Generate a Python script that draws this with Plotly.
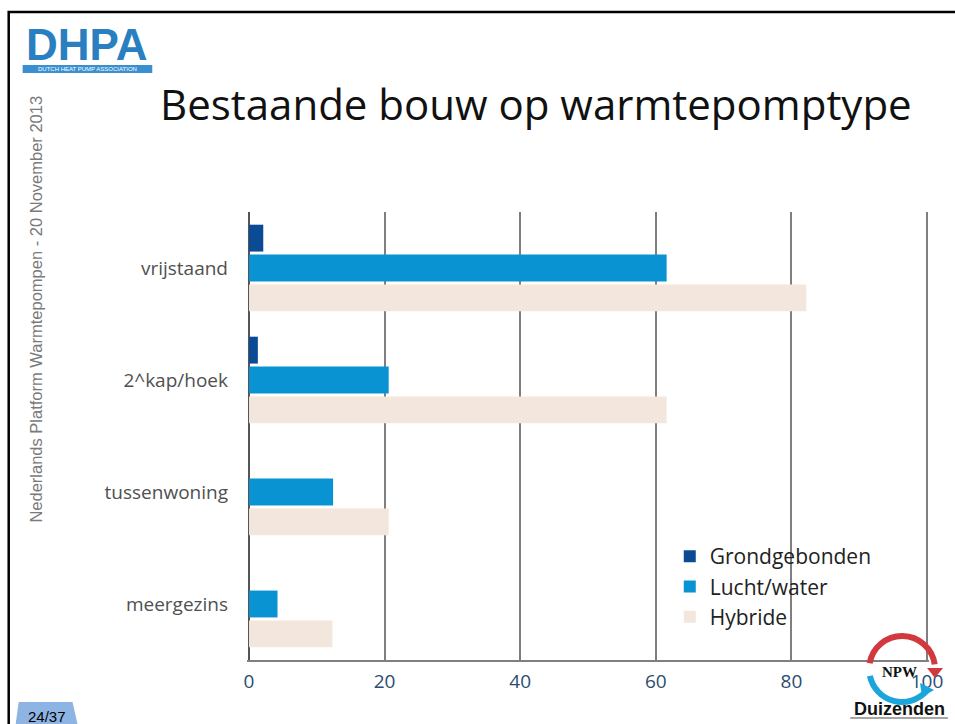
import math
import plotly.graph_objects as go

# data
categories = ["vrijstaand", "2^kap/hoek", "tussenwoning", "meergezins"]
grondgebonden = [2.1, 1.3, 0, 0]
lucht_water = [61.6, 20.6, 12.4, 4.2]
hybride = [82.2, 61.6, 20.6, 12.3]
x_ticks = [0, 20, 40, 60, 80, 100]

W, H = 955, 724
L, R, T, B = 247, 24, 212, 64
PW, PH = W - L - R, H - T - B


def px(x):
    return (x - L) / PW


def py(y):
    return (H - B - y) / PH


def arc_path(cx, cy, r, a0, a1, steps=4):
    # cubic bezier approximation of a circle arc, pixel coords -> paper coords
    d = (a1 - a0) / steps
    k = 4 / 3 * math.tan(math.radians(d) / 4)
    pts = []
    for i in range(steps):
        t0 = math.radians(a0 + i * d)
        t1 = math.radians(a0 + (i + 1) * d)
        p0 = (cx + r * math.cos(t0), cy - r * math.sin(t0))
        p3 = (cx + r * math.cos(t1), cy - r * math.sin(t1))
        p1 = (p0[0] - k * r * math.sin(t0), p0[1] - k * r * math.cos(t0))
        p2 = (p3[0] + k * r * math.sin(t1), p3[1] + k * r * math.cos(t1))
        if i == 0:
            pts.append(f"M {px(p0[0])},{py(p0[1])}")
        pts.append(f"C {px(p1[0])},{py(p1[1])} {px(p2[0])},{py(p2[1])} {px(p3[0])},{py(p3[1])}")
    return " ".join(pts)


def poly(points):
    s = " L ".join(f"{px(a)},{py(b)}" for a, b in points)
    return "M " + s + " Z"


fig = go.Figure()
fig.add_trace(go.Bar(y=categories, x=grondgebonden, name="Grondgebonden",
                     orientation="h", marker=dict(color="#0b4b95", line=dict(width=0))))
fig.add_trace(go.Bar(y=categories, x=lucht_water, name="Lucht/water",
                     orientation="h", marker=dict(color="#0a93d2", line=dict(width=0))))
fig.add_trace(go.Bar(y=categories, x=hybride, name="Hybride",
                     orientation="h", marker=dict(color="#f3e6dc", line=dict(width=0))))

shapes = [
    # slide frame
    dict(type="path", xref="paper", yref="paper",
         path=f"M {px(8)},{py(760)} L {px(8)},{py(12)} L {px(990)},{py(12)}",
         line=dict(color="black", width=2.5)),
    # page number tab
    dict(type="path", xref="paper", yref="paper",
         path=poly([(15, 724), (18, 702), (72, 702), (77, 724)]),
         fillcolor="#8eb4e3", line=dict(width=0)),
    # DHPA strip
    dict(type="rect", xref="paper", yref="paper",
         x0=px(22), x1=px(152), y0=py(73), y1=py(65),
         fillcolor="#3a8fd0", line=dict(width=0)),
    # NPW logo arcs
    dict(type="path", xref="paper", yref="paper", layer="above",
         path=arc_path(904, 669, 33, 170, 8), line=dict(color="#d2393f", width=6)),
    dict(type="path", xref="paper", yref="paper", layer="above",
         path=arc_path(904, 669, 33, 192, 318), line=dict(color="#1aa6dc", width=6)),
    dict(type="path", xref="paper", yref="paper", layer="above",
         path=poly([(929, 668), (945, 668), (937, 678)]),
         fillcolor="#d2393f", line=dict(width=0)),
    dict(type="path", xref="paper", yref="paper", layer="above",
         path=poly([(922, 683), (936, 690), (924, 697)]),
         fillcolor="#1aa6dc", line=dict(width=0)),
    dict(type="line", xref="paper", yref="paper", layer="above",
         x0=px(852), x1=px(950), y0=py(718), y1=py(718),
         line=dict(color="#888888", width=1.5)),
]

annotations = [
    dict(text="Bestaande bouw op warmtepomptype", x=px(537), y=py(103),
         font=dict(family="Open Sans", size=42, color="#111111")),
    dict(text="Nederlands Platform Warmtepompen - 20 November 2013", x=px(35), y=py(309),
         textangle=-90, font=dict(family="Liberation Sans", size=16.5, color="#7a7a7a")),
    dict(text="<b>DHPA</b>", x=px(86), y=py(44),
         font=dict(family="Liberation Sans", size=44, color="#2a7fc0")),
    dict(text="DUTCH HEAT PUMP ASSOCIATION", x=px(87), y=py(69.5),
         font=dict(family="Liberation Sans", size=6, color="#ffffff")),
    dict(text="24/37", x=px(46), y=py(716),
         font=dict(family="Liberation Sans", size=15, color="#000000")),
    dict(text="<b>NPW</b>", x=px(901), y=py(672),
         font=dict(family="Liberation Serif", size=15, color="#111111")),
    dict(text="<b>Duizenden</b>", x=px(901), y=py(709),
         font=dict(family="Liberation Sans", size=18, color="#111111")),
]
for a in annotations:
    a.update(xref="paper", yref="paper", showarrow=False, xanchor="center", yanchor="middle")

fig.update_layout(
    width=W, height=H,
    margin=dict(l=L, r=R, t=T, b=B),
    paper_bgcolor="white", plot_bgcolor="white",
    barmode="group", bargap=0.2, bargroupgap=0.1,
    showlegend=True,
    legend=dict(x=px(671), y=py(536), xanchor="left", yanchor="top",
                traceorder="normal", bgcolor="rgba(0,0,0,0)",
                font=dict(family="Open Sans", size=21, color="#222222"),
                itemclick=False),
    shapes=shapes,
    annotations=annotations,
)
fig.update_xaxes(
    range=[-0.3, 100.3], tickvals=x_ticks, showgrid=True,
    gridcolor="#7f7f7f", gridwidth=1.5, zeroline=True, zerolinecolor="#555555",
    zerolinewidth=1.5, showline=True, linecolor="#7f7f7f", linewidth=1.5,
    ticklabelstandoff=3,
    tickfont=dict(family="Open Sans", size=19, color="#2b4d6f"),
)
fig.update_yaxes(
    range=[3.5, -0.5], showgrid=False, zeroline=False, showline=False,
    ticklabelstandoff=18,
    tickfont=dict(family="Open Sans", size=19, color="#505050"),
)

fig.write_html("out.html", config={"displayModeBar": False},
               post_script="document.body.style.margin='0';")
